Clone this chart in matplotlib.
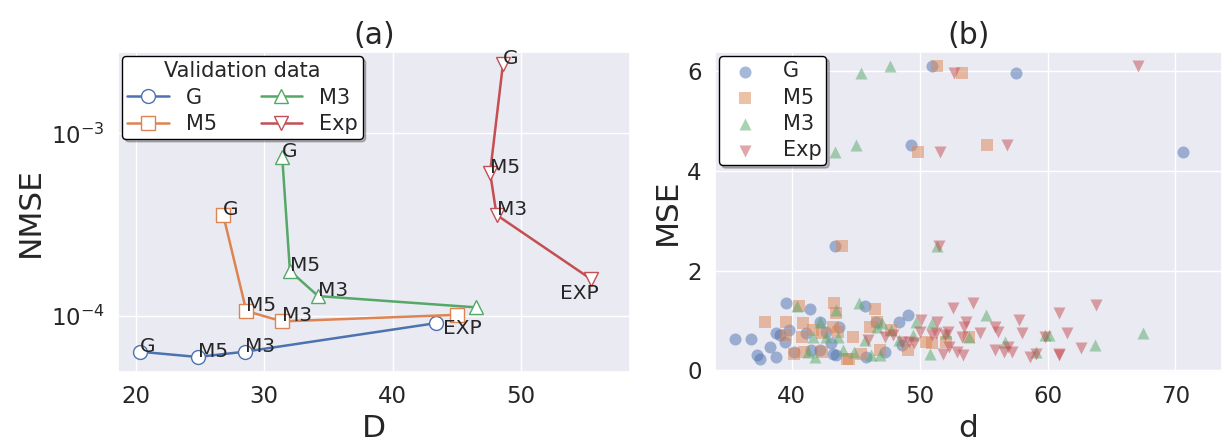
import numpy as np
import matplotlib
matplotlib.use("Agg")
import matplotlib.pyplot as plt
import seaborn as sns

sns.set_theme(style="darkgrid")
plt.rcParams['font.family'] = ['DejaVu Sans']

# ---- panel (a): NMSE vs D for each training set, evaluated on validation data
stages = ["G", "M5", "M3", "EXP"]
val_names = ["G", "M5", "M3", "Exp"]

D_g = [20.3, 24.8, 28.5, 43.4]
nmse_g = [6.34e-5, 5.93e-5, 6.34e-5, 9.1e-5]
D_m5 = [26.8, 28.6, 31.4, 45.0]
nmse_m5 = [3.57e-4, 1.06e-4, 9.3e-5, 1.01e-4]
D_m3 = [31.4, 32.0, 34.2, 46.5]
nmse_m3 = [7.38e-4, 1.76e-4, 1.28e-4, 1.11e-4]
D_exp = [48.6, 47.6, 48.1, 55.5]
nmse_exp = [2.4e-3, 6.1e-4, 3.57e-4, 1.58e-4]

# ---- panel (b): MSE vs d
d_g = [51.0, 57.5, 49.3, 70.6, 43.4,
       35.55, 36.85, 37.3, 37.5, 38.3, 38.8, 39.06, 39.45, 38.8, 39.6,
       41.4, 42.2, 42.7, 43.2, 43.5, 43.7, 45.7, 46.6, 47.3, 48.4,
       49.1, 48.6, 45.8, 41.5, 39.8, 40.2, 42.2, 41.1, 43.1]
mse_g = [6.11, 5.96, 4.52, 4.38, 2.49,
         0.62, 0.62, 0.30, 0.23, 0.47, 0.75, 0.70, 0.57, 0.27, 1.34,
         1.22, 0.97, 0.77, 0.33, 0.30, 0.87, 1.29, 0.97, 0.37, 0.97,
         1.10, 0.50, 0.27, 0.41, 0.80, 0.37, 0.40, 0.74, 0.54]

d_m5 = [51.4, 53.3, 49.9, 55.3, 43.95,
        37.9, 39.6, 40.6, 40.9, 43.3, 43.5, 46.5, 44.8, 40.2, 41.0,
        41.7, 42.4, 43.2, 44.3, 44.5, 46.1, 46.9, 47.8, 49.1, 50.5,
        51.0, 52.1, 46.7, 42.4, 39.6, 40.8, 43.6, 45.4, 53.9]
mse_m5 = [6.11, 5.96, 4.38, 4.52, 2.49,
          0.97, 0.97, 1.29, 0.95, 1.34, 1.15, 1.22, 0.67, 0.33, 0.37,
          0.80, 0.74, 0.87, 0.23, 0.23, 0.87, 0.40, 0.80, 0.40, 0.57,
          0.54, 0.57, 0.97, 0.37, 0.70, 0.67, 0.77, 0.33, 0.67]

d_m3 = [45.4, 47.7, 43.4, 45.0, 51.35,
        40.4, 43.5, 45.3, 47.1, 46.7, 47.8, 48.4, 49.7, 51.0, 52.1,
        53.9, 55.2, 56.7, 59.1, 59.8, 60.1, 63.7, 67.5, 50.8, 41.8,
        41.7, 42.2, 42.7, 43.6, 44.0, 44.9, 45.7, 46.2, 46.9, 49.5, 41.3]
mse_m3 = [5.96, 6.11, 4.38, 4.52, 2.49,
          1.29, 1.20, 1.34, 0.95, 0.87, 0.80, 0.60, 0.97, 0.95, 0.74,
          0.67, 1.10, 0.57, 0.37, 0.70, 0.70, 0.50, 0.75, 0.33, 0.27,
          0.67, 0.97, 0.67, 0.67, 0.40, 0.37, 0.60, 0.30, 0.30, 0.70, 0.37]

d_exp = [67.1, 52.7, 51.6, 56.8, 51.5,
         45.96, 47.3, 47.9, 48.6, 49.2, 49.6, 50.1, 50.0, 51.4, 51.3,
         51.8, 52.2, 52.3, 52.6, 52.9, 53.3, 53.4, 53.6, 53.5, 54.2,
         54.7, 55.9, 55.9, 56.1, 56.6, 57.2, 57.8, 58.0, 58.6, 59.1,
         59.8, 60.9, 60.9, 60.9, 61.5, 62.6, 63.8, 56.9, 51.0, 51.95]
mse_exp = [6.11, 5.96, 4.38, 4.52, 2.49,
           0.60, 0.67, 0.70, 0.57, 0.57, 0.54, 1.00, 0.77, 0.97, 0.74,
           0.33, 0.77, 0.47, 1.24, 0.37, 0.67, 0.30, 0.97, 0.87, 1.34,
           0.74, 0.40, 0.87, 0.77, 0.37, 0.37, 1.00, 0.74, 0.27, 0.33,
           0.67, 1.14, 0.33, 0.30, 0.74, 0.44, 1.31, 0.47, 0.70, 0.70]

colors = ["C0", "C1", "C2", "C3"]
markers = ["o", "s", "^", "v"]
fs_tick = 16.5
fs_label = 22.5
fs_title = 21.5
fs_note = 14.5
fs_leg = 15

fig = plt.figure(figsize=(12.24, 4.44), dpi=100)
ax1 = fig.add_axes([0.0964, 0.162, 0.4183, 0.721])
ax2 = fig.add_axes([0.584, 0.162, 0.414, 0.721])

# (a)
series_a = [(D_g, nmse_g), (D_m5, nmse_m5), (D_m3, nmse_m3), (D_exp, nmse_exp)]
for (xs, ys), c, m, name in zip(series_a, colors, markers, val_names):
    ax1.plot(xs, ys, color=c, marker=m, markersize=10, markerfacecolor="white",
             markeredgecolor=c, linewidth=1.8, label=name)
    for x, y, s in zip(xs, ys, stages):
        if s == "EXP":
            continue
        ax1.text(x, y, s, fontsize=fs_note, color="0.15")

# EXP labels only for G and Exp series
ax1.annotate("EXP", (D_g[3], nmse_g[3]), xytext=(5, 3), textcoords="offset points",
             fontsize=fs_note, color="0.15", ha="left", va="top")
ax1.annotate("EXP", (D_exp[3], nmse_exp[3]), xytext=(5, -3), textcoords="offset points",
             fontsize=fs_note, color="0.15", ha="right", va="top")

ax1.set_yscale("log")
ax1.set_xlim(18.6, 58.5)
ax1.set_ylim(4.9e-5, 2.8e-3)
ax1.set_xticks([20, 30, 40, 50])
ax1.set_yticks([1e-4, 1e-3])
ax1.yaxis.set_minor_locator(matplotlib.ticker.NullLocator())
ax1.tick_params(labelsize=fs_tick)
ax1.set_xlabel("D", fontsize=fs_label)
ax1.set_ylabel("NMSE", fontsize=fs_label)
ax1.set_title("(a)", fontsize=fs_title)
leg1 = ax1.legend(title="Validation data", ncol=2, loc="upper left",
                  fontsize=fs_leg, title_fontsize=fs_leg, frameon=True,
                  borderaxespad=0.2, handlelength=2.0, handletextpad=0.8,
                  columnspacing=2.1, borderpad=0.25, labelspacing=0.3,
                  fancybox=True, shadow={"alpha": 0.35})
leg1.get_frame().set_edgecolor("black")
leg1.get_frame().set_facecolor("white")
leg1.get_frame().set_alpha(1)

# (b)
series_b = [(d_g, mse_g), (d_m5, mse_m5), (d_m3, mse_m3), (d_exp, mse_exp)]
for (xs, ys), c, m, name in zip(series_b, colors, markers, val_names):
    ax2.scatter(xs, ys, color=c, marker=m, s=75, alpha=0.5, linewidths=0, label=name)

ax2.set_xlim(34.0, 73.6)
ax2.set_ylim(-0.04, 6.39)
ax2.set_xticks([40, 50, 60, 70])
ax2.set_yticks([0, 2, 4, 6])
ax2.tick_params(labelsize=fs_tick)
ax2.set_xlabel("d", fontsize=fs_label)
ax2.set_ylabel("MSE", fontsize=fs_label)
ax2.set_title("(b)", fontsize=fs_title)
leg2 = ax2.legend(loc="upper left", fontsize=fs_leg, frameon=True,
                  borderaxespad=0.2, handlelength=2.0, handletextpad=0.8,
                  borderpad=0.25, labelspacing=0.3,
                  fancybox=True, shadow={"alpha": 0.35})
leg2.get_frame().set_edgecolor("black")
leg2.get_frame().set_facecolor("white")
leg2.get_frame().set_alpha(1)

fig.savefig("out.png", dpi=100)
